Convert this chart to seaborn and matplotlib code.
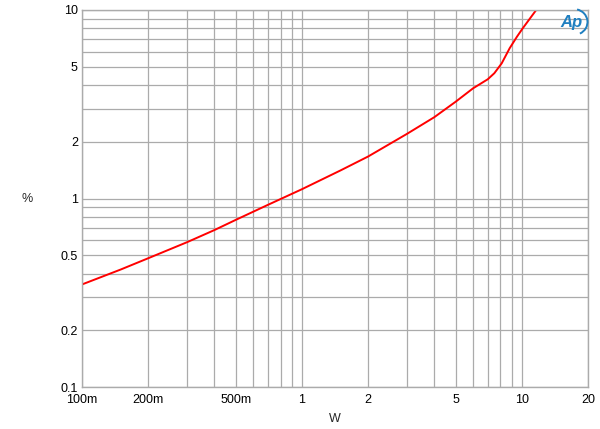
import matplotlib
matplotlib.use("Agg")
import matplotlib.pyplot as plt
import matplotlib.ticker as mticker
from matplotlib.patches import Arc
import seaborn as sns
import pandas as pd

# Data
power_w = [0.1, 0.15, 0.2, 0.3, 0.4, 0.5, 0.7, 1.0, 1.5, 2.0, 3.0, 4.0, 5.0,
           6.0, 7.0, 7.5, 8.1, 8.8, 9.5, 10.1, 11.7]
thd_pct = [0.35, 0.42, 0.482, 0.586, 0.68, 0.77, 0.925, 1.12, 1.41, 1.67,
           2.20, 2.70, 3.26, 3.84, 4.29, 4.62, 5.21, 6.26, 7.21, 8.0, 10.1]

x_ticks = [0.1, 0.2, 0.5, 1, 2, 5, 10, 20]
x_tick_labels = ["100m", "200m", "500m", "1", "2", "5", "10", "20"]
y_ticks = [0.1, 0.2, 0.5, 1, 2, 5, 10]
y_tick_labels = ["0.1", "0.2", "0.5", "1", "2", "5", "10"]

df = pd.DataFrame({"W": power_w, "pct": thd_pct})

sns.set_style("white")
plt.rcParams["font.family"] = ["Liberation Sans", "DejaVu Sans"]

fig = plt.figure(figsize=(6.0, 4.29), dpi=100)
ax = fig.add_axes([82 / 600, 1 - 387 / 429, (588 - 82) / 600, (387 - 10) / 429])

sns.lineplot(data=df, x="W", y="pct", color="#ff0000", linewidth=1.4, ax=ax)

ax.set_xscale("log")
ax.set_yscale("log")
ax.set_xlim(0.1, 20)
ax.set_ylim(0.1, 10)

ax.xaxis.set_major_locator(mticker.FixedLocator(x_ticks))
ax.xaxis.set_major_formatter(mticker.FixedFormatter(x_tick_labels))
ax.yaxis.set_major_locator(mticker.FixedLocator(y_ticks))
ax.yaxis.set_major_formatter(mticker.FixedFormatter(y_tick_labels))
ax.xaxis.set_minor_locator(mticker.LogLocator(base=10, subs=range(1, 10), numticks=20))
ax.yaxis.set_minor_locator(mticker.LogLocator(base=10, subs=range(1, 10), numticks=20))
ax.xaxis.set_minor_formatter(mticker.NullFormatter())
ax.yaxis.set_minor_formatter(mticker.NullFormatter())

ax.grid(True, which="both", color="#ababab", linewidth=0.9)
ax.set_axisbelow(True)
ax.tick_params(which="both", length=0, labelsize=9, colors="black")
ax.tick_params(axis="x", pad=5)
ax.tick_params(axis="y", pad=3)

for s in ax.spines.values():
    s.set_color("#ababab")
    s.set_linewidth(1.0)

ax.set_xlabel("W", fontsize=9, labelpad=5)
ax.set_ylabel("%", fontsize=9, rotation=0, labelpad=0, va="center", ha="center")
ax.yaxis.set_label_coords(-0.108, 0.5)

# Logo
fig.text(571 / 600, 1 - 22 / 429, "Ap", color="#1f7fc0", fontsize=12,
         fontstyle="italic", fontweight="bold", ha="center", va="center")
arc = Arc((574 / 600, 1 - 22 / 429), 0.045, 0.06, theta1=-70, theta2=80,
          transform=fig.transFigure, color="#1f7fc0", linewidth=1.4)
fig.add_artist(arc)

fig.savefig("out.png", dpi=100)
